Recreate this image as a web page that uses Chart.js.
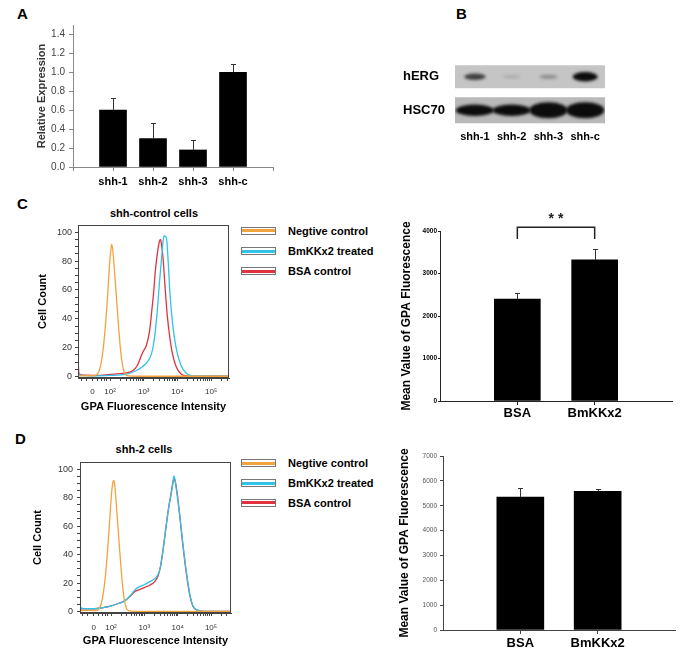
<!DOCTYPE html>
<html>
<head>
<meta charset="utf-8">
<script src="https://cdn.jsdelivr.net/npm/chart.js@4.4.0/dist/chart.umd.min.js"></script>
<style>
body { margin:0; background:#fff; }
#fig { position:relative; width:683px; height:656px; overflow:hidden; font-family:"Liberation Sans", Arial, sans-serif; }
#fig canvas { position:absolute; }
.lbl { position:absolute; font-weight:bold; color:#000; white-space:nowrap; line-height:1; }
.ttl { position:absolute; font-weight:bold; font-size:11px; color:#000; white-space:nowrap; line-height:1; transform:translate(-50%,-50%); }
.legend { position:absolute; }
.legend div { height:20.3px; display:flex; align-items:center; font:bold 11px "Liberation Sans", Arial, sans-serif; color:#000; }
.legend .box { display:inline-block; width:33px; height:6px; border:1px solid #777; margin-right:12px;
  background:linear-gradient(#fff 1.5px, var(--c) 1.5px, var(--c) 4.5px, #fff 4.5px); }
</style>
</head>
<body>
<div id="fig">
  <div class="lbl" style="left:17px;top:6px;font-size:15px">A</div>
  <div class="lbl" style="left:456px;top:6px;font-size:15px">B</div>
  <div class="lbl" style="left:17px;top:196px;font-size:15px">C</div>
  <div class="lbl" style="left:15px;top:431px;font-size:15px">D</div>
  <div class="ttl" style="left:154px;top:213px">shh-control cells</div>
  <div class="ttl" style="left:144px;top:449px">shh-2 cells</div>
  <canvas id="cA" width="290" height="195" style="left:0;top:0"></canvas>
  <canvas id="cB" width="220" height="100" style="left:395px;top:50px"></canvas>
  <canvas id="cC1" width="240" height="215" style="left:0;top:200px"></canvas>
  <canvas id="cC2" width="288" height="225" style="left:395px;top:200px"></canvas>
  <canvas id="cD1" width="240" height="215" style="left:0;top:437px"></canvas>
  <canvas id="cD2" width="288" height="231" style="left:395px;top:425px"></canvas>
</div>
<script>
Chart.defaults.font.family = '"Liberation Sans", Arial, sans-serif';

// A: relative expression
const lanes = ['shh-1', 'shh-2', 'shh-3', 'shh-c'];
const relExpr = [0.60, 0.30, 0.18, 1.00];
const relExprErr = [0.13, 0.17, 0.11, 0.09];
const relTicks = [0, 0.2, 0.4, 0.6, 0.8, 1.0, 1.2, 1.4];

// B: western blot band strength per lane
const blotRows = ['hERG', 'HSC70'];
const hergBand = [0.6, 0.12, 0.25, 1.0];
const hscBand = [0.85, 0.85, 1.0, 1.0];

// C/D histograms: [log decade position, cell count]
const seriesNames = ['Negtive control', 'BmKKx2 treated', 'BSA control'];
const seriesColors = ['#F2A43C', '#2FC3E8', '#E0323C'];
const decadeTicks = [1.48, 2, 3, 4, 5];
const decadeLabels = ['0', '10²', '10³', '10⁴', '10⁵'];

const negC = [[1.05,0.3],[1.3,0.6],[1.5,0.5],[1.6,1.2],[1.68,4],[1.75,11],[1.82,24],[1.88,40],[1.94,60],[1.99,79],[2.03,89],[2.05,91.5],[2.08,88],[2.13,74],[2.19,55],[2.25,36],[2.31,19],[2.37,8],[2.43,2.5],[2.5,0.6],[2.8,0.2],[5.55,0.2]];
const bmkC = [[1.05,5],[1.08,1],[1.5,0.5],[2.0,0.8],[2.47,1.5],[2.72,3.5],[2.97,7],[3.12,10.5],[3.22,15],[3.28,21],[3.32,27],[3.4,45],[3.47,66],[3.53,82],[3.58,95],[3.61,97.5],[3.65,97],[3.68,95],[3.72,82],[3.78,57],[3.86,36],[3.96,20],[4.1,8],[4.26,2.3],[4.4,0.6],[4.6,0.2],[5.55,0.2]];
const bsaC = [[1.05,12],[1.08,2],[1.2,1],[1.6,0.8],[2.0,1.5],[2.3,2],[2.47,2.5],[2.67,4],[2.82,8],[2.92,14],[3.0,18],[3.07,21],[3.17,31],[3.25,48],[3.3,60],[3.34,72],[3.42,88],[3.47,94],[3.5,95],[3.53,91],[3.57,83],[3.63,63],[3.7,42],[3.78,26],[3.85,16],[3.96,7],[4.1,2],[4.25,0.5],[4.5,0.2],[5.55,0.2]];

const negD = [[1.05,0.5],[1.3,0.8],[1.55,0.6],[1.63,1.5],[1.7,5],[1.77,13],[1.84,27],[1.9,44],[1.96,64],[2.01,81],[2.05,90],[2.08,92],[2.11,89],[2.16,75],[2.22,56],[2.28,37],[2.34,20],[2.4,8],[2.46,2.5],[2.52,0.6],[2.8,0.2],[5.6,0.2]];
const bmkD = [[1.05,9],[1.08,3],[1.2,2],[1.5,2],[1.8,3],[2.01,4],[2.2,5.5],[2.41,7.5],[2.61,12],[2.71,15],[2.81,17],[2.91,18],[3.01,19],[3.16,21],[3.31,23],[3.41,26],[3.48,31],[3.56,43],[3.66,61],[3.73,73],[3.81,83],[3.86,91],[3.88,95],[3.91,94],[3.96,86],[4.05,70],[4.15,49],[4.26,28],[4.36,13],[4.46,4],[4.61,0.9],[4.8,0.2],[5.6,0.2]];
const bsaD = [[1.05,3],[1.1,2],[1.5,2],[1.8,3],[2.01,4],[2.2,5.5],[2.41,7.5],[2.61,11.5],[2.71,14],[2.81,15],[2.91,16],[3.01,17],[3.16,18.5],[3.31,21],[3.41,25],[3.48,31],[3.56,43],[3.66,61],[3.73,73],[3.81,84],[3.87,92],[3.9,93],[3.93,91],[3.98,84],[4.06,68],[4.15,48],[4.26,27],[4.36,12],[4.46,3.5],[4.6,0.8],[4.8,0.2],[5.6,0.2]];

// C/D mean fluorescence bars
const groups = ['BSA', 'BmKKx2'];
const meanC = [2400, 3320];
const meanCErr = [150, 260];
const meanD = [5350, 5580];
const meanDErr = [350, 100];

const errorBars = {
  id: 'errorBars',
  afterDatasetsDraw(chart) {
    const {ctx} = chart;
    const ys = chart.scales.y;
    chart.data.datasets.forEach((ds, i) => {
      if (!ds.errors) return;
      chart.getDatasetMeta(i).data.forEach((bar, j) => {
        const v = ds.data[j], e = ds.errors[j];
        if (v == null || !e) return;
        const x = Math.round(bar.x) + 0.5;
        const yTop = Math.round(ys.getPixelForValue(v + e)) + 0.5;
        ctx.save();
        ctx.strokeStyle = '#333';
        ctx.lineWidth = 1;
        ctx.beginPath();
        ctx.moveTo(x, bar.y);
        ctx.lineTo(x, yTop);
        ctx.moveTo(x - 2.5, yTop);
        ctx.lineTo(x + 2.5, yTop);
        ctx.stroke();
        ctx.restore();
      });
    });
  }
};

const frame = {
  id: 'frame',
  afterDatasetsDraw(c) {
    const {ctx, chartArea: a} = c;
    ctx.save();
    ctx.strokeStyle = '#444';
    ctx.lineWidth = 1;
    ctx.strokeRect(Math.round(a.left) + 0.5, Math.round(a.top) + 0.5, Math.round(a.right - a.left) - 1, Math.round(a.bottom - a.top) - 1);
    ctx.restore();
  }
};

const bracket = {
  id: 'bracket',
  afterDraw(c, args, o) {
    if (!o || !o.text) return;
    const {ctx, scales: {x, y}} = c;
    const x0 = x.getPixelForValue(o.from), x1 = x.getPixelForValue(o.to);
    const yl = y.getPixelForValue(o.leg), yt = y.getPixelForValue(o.top);
    ctx.save();
    ctx.strokeStyle = '#222';
    ctx.lineWidth = 1.5;
    ctx.beginPath();
    ctx.moveTo(x0, yl); ctx.lineTo(x0, yt); ctx.lineTo(x1, yt); ctx.lineTo(x1, yl);
    ctx.stroke();
    ctx.font = 'bold 14px "Liberation Sans", Arial, sans-serif';
    ctx.fillStyle = '#222';
    ctx.textAlign = 'center';
    ctx.textBaseline = 'middle';
    ctx.fillText(o.text, (x0 + x1) / 2, y.getPixelForValue(o.textAt));
    ctx.restore();
  }
};

const blot = {
  id: 'blot',
  beforeDatasetsDraw(chart, args, o) {
    const {ctx, chartArea: a, scales: {x, y}} = chart;
    const step = x.getPixelForValue(1) - x.getPixelForValue(0);
    const ds = chart.data.datasets[0];
    const meta = chart.getDatasetMeta(0);
    blotRows.forEach((row, r) => {
      const cy = y.getPixelForValue(r);
      const h = o.boxHeights[r];
      const top = cy - h / 2;
      ctx.save();
      ctx.fillStyle = o.boxColors[r];
      ctx.fillRect(a.left - 1.5, top, a.right - a.left + 3, h);
      ctx.beginPath();
      ctx.rect(a.left - 1.5, top, a.right - a.left + 3, h);
      ctx.clip();
      ctx.filter = 'blur(1.6px)';
      meta.data.forEach((pt, k) => {
        const raw = ds.data[k];
        if (raw.y !== row) return;
        const v = raw.v;
        const rx = r === 0 ? step * (0.22 + 0.12 * v) : step * 0.52;
        const ry = r === 0 ? 1.2 + 3.5 * v : 2 + 6 * v * v * v;
        ctx.fillStyle = `rgba(12,12,12,${Math.min(1, v * 1.2)})`;
        ctx.beginPath();
        ctx.ellipse(pt.x, pt.y, rx, ry, 0, 0, Math.PI * 2);
        ctx.fill();
      });
      ctx.restore();
    });
  }
};

// A
new Chart(document.getElementById('cA'), {
  type: 'bar',
  data: {
    labels: ['', ...lanes, ''],
    datasets: [{
      data: [null, ...relExpr, null],
      errors: [null, ...relExprErr, null],
      backgroundColor: '#000',
      barThickness: 27
    }]
  },
  options: {
    responsive: false, animation: false,
    layout: {padding: {top: 25, right: 17, left: 0, bottom: 0}},
    plugins: {legend: {display: false}, tooltip: {enabled: false}},
    scales: {
      x: {
        offset: false,
        grid: {offset: false, drawOnChartArea: false, tickLength: 4, color: '#888'},
        border: {color: '#888'},
        ticks: {font: {size: 11, weight: 'bold'}, color: '#000', padding: 4.4, maxRotation: 0, autoSkip: false},
        afterFit: s => { s.height = 28; }
      },
      y: {
        min: 0, max: 1.5,
        ticks: {callback: v => v.toFixed(1), font: {size: 10}, color: '#444', padding: 4},
        afterBuildTicks: s => { s.ticks = relTicks.map(v => ({value: v})); },
        grid: {drawOnChartArea: false, tickLength: 4, color: '#888'},
        border: {color: '#888'},
        title: {display: true, text: 'Relative Expression', font: {size: 11, weight: 'bold'}, color: '#333', padding: {top: 35, bottom: 0}},
        afterFit: s => { s.width = 73; }
      }
    }
  },
  plugins: [errorBars]
});

// B
const bands = [];
lanes.forEach((l, i) => {
  bands.push({x: l, y: 'hERG', v: hergBand[i]});
  bands.push({x: l, y: 'HSC70', v: hscBand[i]});
});
new Chart(document.getElementById('cB'), {
  type: 'scatter',
  data: {datasets: [{data: bands, pointRadius: 0}]},
  options: {
    responsive: false, animation: false,
    layout: {padding: {left: 8, top: 10, right: 11.5, bottom: 0}},
    plugins: {
      legend: {display: false}, tooltip: {enabled: false},
      blot: {boxHeights: [23, 26], boxColors: ['#c5c5c5', '#b9b9b9']}
    },
    scales: {
      x: {
        type: 'category', labels: lanes, offset: true,
        grid: {display: false, drawTicks: false}, border: {display: false},
        ticks: {font: {size: 11, weight: 'bold'}, color: '#000', padding: 3.4},
        afterFit: s => { s.height = 23; }
      },
      y: {
        type: 'category', labels: blotRows, offset: true,
        grid: {display: false, drawTicks: false}, border: {display: false},
        ticks: {crossAlign: 'far', font: {size: 13, weight: 'bold'}, color: '#000', padding: 0},
        afterFit: s => { s.width = 53.5; }
      }
    }
  },
  plugins: [blot]
});

// histogram ticks
const minorTicks = [1.15, 1.3, 1.62, 1.74, 1.83, 1.9];
[2, 3, 4].forEach(d => { for (let k = 2; k < 10; k++) minorTicks.push(d + Math.log10(k)); });
minorTicks.push(5 + Math.log10(2), 5 + Math.log10(3));
const histTicks = [...decadeTicks, ...minorTicks].sort((a, b) => a - b);
const countTicks = [];
for (let v = 0; v <= 100; v += 5) countTicks.push(v);

function histogram(id, sets, o) {
  return new Chart(document.getElementById(id), {
    type: 'line',
    data: {
      datasets: sets.map((s, i) => ({
        label: seriesNames[i],
        data: s.map(p => ({x: p[0], y: p[1]})),
        borderColor: seriesColors[i],
        borderWidth: 1.3, pointRadius: 0, fill: false,
        cubicInterpolationMode: 'monotone'
      }))
    },
    options: {
      responsive: false, animation: false,
      layout: {padding: {top: 25, right: o.right, left: 0, bottom: 0}},
      plugins: {legend: {display: false}, tooltip: {enabled: false}},
      scales: {
        x: {
          type: 'linear', min: o.xmin, max: o.xmax,
          afterBuildTicks: s => { s.ticks = histTicks.map(v => ({value: v})); },
          ticks: {
            autoSkip: false, maxRotation: 0, font: {size: 8}, color: '#333', padding: o.xPad,
            callback: v => { const k = decadeTicks.indexOf(v); return k < 0 ? '' : decadeLabels[k]; }
          },
          grid: {drawOnChartArea: false, tickLength: 3, color: '#444'},
          border: {color: '#444'},
          title: {display: true, text: 'GPA Fluorescence Intensity', font: {size: 11, weight: 'bold'}, color: '#000', padding: {top: 0, bottom: o.xTitlePad}},
          afterFit: s => { s.height = o.xh; }
        },
        y: {
          min: -1, max: 105,
          afterBuildTicks: s => { s.ticks = countTicks.map(v => ({value: v})); },
          ticks: {autoSkip: false, font: {size: 9}, color: '#333', padding: o.yPad, callback: v => (v % 20 === 0 ? v : '')},
          grid: {drawOnChartArea: false, tickLength: 3, color: '#444'},
          border: {color: '#444'},
          title: {display: true, text: 'Cell Count', font: {size: 11, weight: 'bold'}, color: '#000', padding: {top: o.yTitlePad, bottom: 0}},
          afterFit: s => { s.width = o.yw; }
        }
      }
    },
    plugins: [frame]
  });
}

histogram('cC1', [negC, bmkC, bsaC], {right: 11, xmin: 1.05, xmax: 5.53, xPad: 6, xTitlePad: 1.4, xh: 37, yPad: 3, yTitlePad: 36, yw: 78});
histogram('cD1', [negD, bmkD, bsaD], {right: 9, xmin: 1.07, xmax: 5.6, xPad: 7, xTitlePad: 4.4, xh: 39, yPad: 4, yTitlePad: 31, yw: 80});

// legends
const fig = document.getElementById('fig');
function legend(top) {
  const ul = document.createElement('div');
  ul.className = 'legend';
  ul.style.left = '241px';
  ul.style.top = top + 'px';
  seriesNames.forEach((n, i) => {
    const li = document.createElement('div');
    li.innerHTML = `<span class="box" style="--c:${seriesColors[i]}"></span>${n}`;
    ul.appendChild(li);
  });
  fig.appendChild(ul);
}
legend(220.5);
legend(452.5);

function meanBars(id, values, errs, o) {
  return new Chart(document.getElementById(id), {
    type: 'bar',
    data: {
      labels: ['', ...groups, ''],
      datasets: [{
        data: [null, ...values, null],
        errors: [null, ...errs, null],
        backgroundColor: '#000',
        barThickness: o.bar
      }]
    },
    options: {
      responsive: false, animation: false,
      layout: {padding: {top: 31, right: o.right, left: 0, bottom: 0}},
      plugins: {legend: {display: false}, tooltip: {enabled: false}, bracket: o.bracket || {}},
      scales: {
        x: {
          offset: false,
          grid: {offset: false, drawOnChartArea: false, tickLength: 4,
                 color: c => (c.index === 0 || c.index === 3 ? 'rgba(0,0,0,0)' : o.axis)},
          border: {color: o.axis},
          ticks: {font: {size: 13, weight: 'bold'}, color: '#000', padding: o.xPad, maxRotation: 0, autoSkip: false},
          afterFit: s => { s.height = o.xh; }
        },
        y: {
          min: 0, max: o.max,
          ticks: {stepSize: 1000, callback: v => String(v), font: {size: 6.5, weight: o.tickWeight}, color: o.tickColor, padding: o.yPad},
          grid: {drawOnChartArea: false, tickLength: o.tl, color: o.axis},
          border: {color: o.axis},
          title: {display: true, text: 'Mean Value of GPA Fluorescence', font: {size: 12, weight: 'bold'}, color: '#000', padding: {top: o.yTitlePad, bottom: 0}},
          afterFit: s => { s.width = o.yw; }
        }
      }
    },
    plugins: [errorBars, bracket]
  });
}

meanBars('cC2', meanC, meanCErr, {
  bar: 46, right: 11, axis: '#222', xPad: 1, xh: 24, max: 4000, tickWeight: 'bold', tickColor: '#000',
  yPad: 1, tl: 2, yTitlePad: 4.8, yw: 45,
  bracket: {from: 1, to: 2, leg: 3810, top: 4090, text: '* *', textAt: 4280}
});
meanBars('cD2', meanD, meanDErr, {
  bar: 47, right: 8, axis: '#444', xPad: 1.2, xh: 26, max: 7000, tickWeight: 'normal', tickColor: '#555',
  yPad: 3, tl: 3, yTitlePad: 2.8, yw: 48
});
</script>
</body>
</html>
